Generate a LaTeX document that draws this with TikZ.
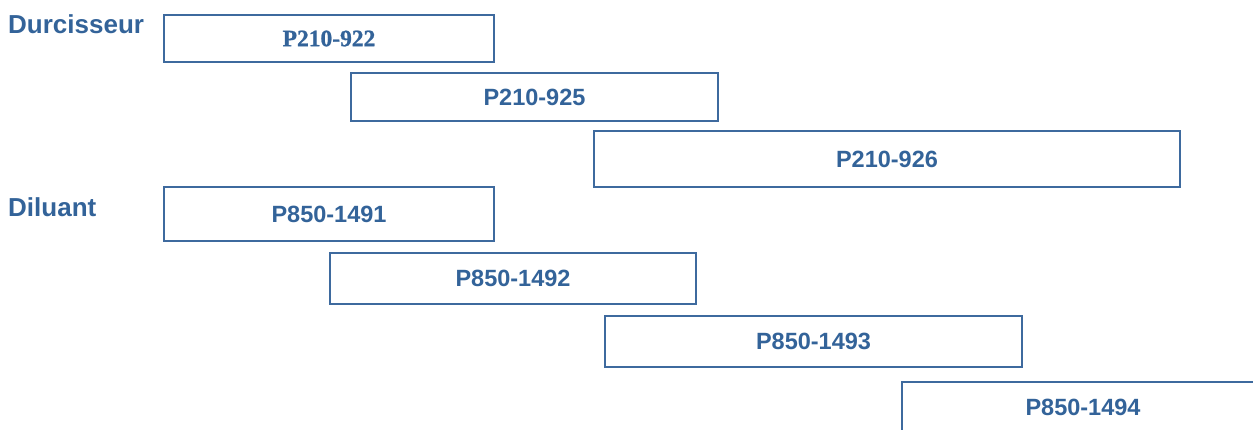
\documentclass[tikz,border=0pt]{standalone}
\usepackage{fontspec}
\setmainfont{Liberation Sans}
\newfontfamily\serifbold{Liberation Serif Bold}[FakeBold=1]
\definecolor{txtblue}{RGB}{51,99,153}
\definecolor{boxblue}{RGB}{62,106,158}
\tikzset{
  bx/.style={draw=boxblue, line width=2pt, fill=white, rectangle, inner sep=0pt, anchor=north west,
     text=txtblue, font=\fontsize{23.5}{28}\selectfont\bfseries},
  lbl/.style={anchor=base west, inner sep=0pt, text=txtblue, font=\fontsize{26}{30}\selectfont\bfseries}
}
\begin{document}
\begin{tikzpicture}[x=1pt,y=-1pt]
\useasboundingbox (0,0) rectangle (1253,430);
\clip (0,0) rectangle (1253,430);
\node[lbl] (durc) at (8,33.5) {Durcisseur};
\node[lbl] (dil) at (8,217) {Diluant};
\node[bx, minimum width=330pt, minimum height=47pt, font=\fontsize{23.5}{28}\selectfont\serifbold] (b1) at (163,14) {P210-922};
\node[bx, minimum width=367pt, minimum height=48pt] (b2) at (350,72) {P210-925};
\node[bx, minimum width=586pt, minimum height=56pt] (b3) at (593,130) {P210-926};
\node[bx, minimum width=330pt, minimum height=54pt] (b4) at (163,186) {P850-1491};
\node[bx, minimum width=366pt, minimum height=51pt] (b5) at (329,252) {P850-1492};
\node[bx, minimum width=417pt, minimum height=51pt] (b6) at (604,315) {P850-1493};
\node[bx, minimum width=362pt, minimum height=50pt] (b7) at (901,381) {P850-1494};
\end{tikzpicture}
\end{document}
